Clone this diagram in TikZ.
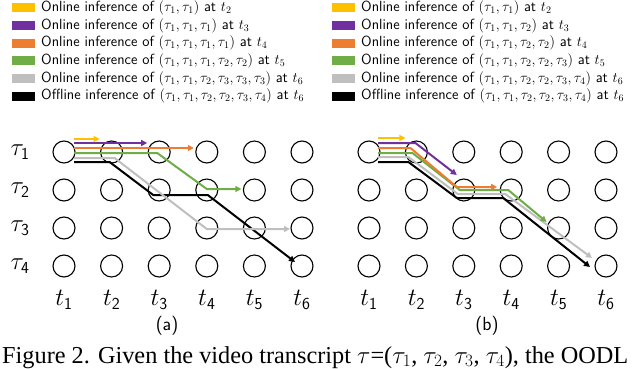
\documentclass[tikz,border=0pt]{standalone}
\usepackage{fontspec}
\newfontfamily\capfont{Liberation Serif}
\usetikzlibrary{arrows.meta,calc}
\definecolor{cyel}{HTML}{FFC000}
\definecolor{cpur}{HTML}{7030A0}
\definecolor{cora}{HTML}{ED7D31}
\definecolor{cgrn}{HTML}{70AD47}
\definecolor{cgry}{HTML}{BFBFBF}
\definecolor{cblk}{HTML}{000000}
\begin{document}
\begin{tikzpicture}[x=1pt,y=-1pt,
  cell/.style={draw,circle,minimum size=22pt,inner sep=0pt,line width=1.1pt},
  pth/.style={line width=2pt,line join=round,-{Triangle[length=6pt,width=6pt]}},
  legbox/.style={minimum width=23pt,minimum height=9pt,inner sep=0pt},
  legtxt/.style={anchor=west,inner sep=0pt,font=\sffamily\fontsize{14.7}{16}\selectfont},
  rowlab/.style={font=\fontsize{24}{28}\selectfont},
  collab/.style={font=\fontsize{24}{28}\selectfont},
  sublab/.style={font=\sffamily\fontsize{19}{22}\selectfont}]
\useasboundingbox (0,0) rectangle (640,369);
% legends
\foreach \c/\t [count=\i] in {cyel/{Online inference of $(\tau_1,\tau_1)$ at $t_2$},
  cpur/{Online inference of $(\tau_1,\tau_1,\tau_1)$ at $t_3$},
  cora/{Online inference of $(\tau_1,\tau_1,\tau_1,\tau_1)$ at $t_4$},
  cgrn/{Online inference of $(\tau_1,\tau_1,\tau_1,\tau_2,\tau_2)$ at $t_5$},
  cgry/{Online inference of $(\tau_1,\tau_1,\tau_2,\tau_3,\tau_3,\tau_3)$ at $t_6$},
  cblk/{Offline inference of $(\tau_1,\tau_1,\tau_2,\tau_2,\tau_3,\tau_4)$ at $t_6$}}{
  \node[legbox,fill=\c] (la\i) at (23.5,{8+17.6*(\i-1)}) {};
  \node[legtxt] (lta\i) at (41,{8+17.6*(\i-1)}) {\t};
}
\foreach \c/\t [count=\i] in {cyel/{Online inference of $(\tau_1,\tau_1)$ at $t_2$},
  cpur/{Online inference of $(\tau_1,\tau_1,\tau_2)$ at $t_3$},
  cora/{Online inference of $(\tau_1,\tau_1,\tau_2,\tau_2)$ at $t_4$},
  cgrn/{Online inference of $(\tau_1,\tau_1,\tau_2,\tau_2,\tau_3)$ at $t_5$},
  cgry/{Online inference of $(\tau_1,\tau_1,\tau_2,\tau_2,\tau_3,\tau_4)$ at $t_6$},
  cblk/{Offline inference of $(\tau_1,\tau_1,\tau_2,\tau_2,\tau_3,\tau_4)$ at $t_6$}}{
  \node[legbox,fill=\c] (lb\i) at (343.5,{8+17.6*(\i-1)}) {};
  \node[legtxt] (ltb\i) at (361,{8+17.6*(\i-1)}) {\t};
}
% grids
\foreach \r in {1,...,4}{
  \foreach \c in {1,...,6}{
    \node[cell] (a\r\c) at ({64+47.6*(\c-1)},{152+38*(\r-1)}) {};
    \node[cell] (b\r\c) at ({369+47.4*(\c-1)},{152+38*(\r-1)}) {};
  }
  \node[rowlab] (tau\r) at (20,{152+38*(\r-1)}) {$\tau_{\mathsf{\r}}$};
}
\foreach \c in {1,...,6}{
  \node[collab] (ta\c) at ({64+47.6*(\c-1)},300) {$t_{\mathsf{\c}}$};
  \node[collab] (tb\c) at ({369+47.4*(\c-1)},300) {$t_{\mathsf{\c}}$};
}
\node[sublab] (capa) at (167,326) {(a)};
\node[sublab] (capb) at (487,326) {(b)};
% paths (a)
\draw[pth,cblk] ($(a11)+(10,10)$) -- ($(a12)+(-2,10)$) -- ($(a23)+(-6,5)$) -- ($(a24)+(1,5)$) -- ($(a46)+(-7,-4)$);
\draw[pth,cgry] ($(a11)+(10,6)$) -- ($(a12)+(3,6)$) -- ($(a34)+(0,1)$) -- ($(a36)+(-12,1)$);
\draw[pth,cgrn] ($(a11)+(10,1)$) -- ($(a13)+(-2,1)$) -- ($(a24)+(0,-1)$) -- ($(a25)+(-13,-1)$);
\draw[pth,cora] ($(a11)+(10,-4)$) -- ($(a14)+(-13,-4)$);
\draw[pth,cpur] ($(a11)+(10,-9)$) -- ($(a13)+(-12,-9)$);
\draw[pth,cyel] ($(a11)+(10,-13)$) -- ($(a12)+(-12,-13)$);
% paths (b)
\draw[pth,cblk] ($(b11)+(9,10)$) -- ($(b12)+(-8,10)$) -- ($(b23)+(-7,8)$) -- ($(b24)+(-8,8)$) -- ($(b46)+(-16,1)$);
\draw[pth,cgry] ($(b11)+(9,5)$) -- ($(b12)+(-8,5)$) -- ($(b23)+(-6,4)$) -- ($(b24)+(-6,4)$) -- ($(b46)+(-14,-8)$);
\draw[pth,cgrn] ($(b11)+(9,1)$) -- ($(b12)+(-4,1)$) -- ($(b23)+(-4,0)$) -- ($(b24)+(-3,0)$) -- ($(b35)+(-12,-6)$);
\draw[pth,cora] ($(b11)+(9,-4)$) -- ($(b12)+(-6,-4)$) -- ($(b23)+(-7,-3)$) -- ($(b24)+(-14,-3)$);
\draw[pth,cpur] ($(b11)+(9,-9)$) -- ($(b12)+(-1,-9)$) -- ($(b23)+(-7,-15)$);
\draw[pth,cyel] ($(b11)+(9,-14)$) -- ($(b12)+(-11,-14)$);
% caption
\node[anchor=base west,inner sep=0pt,font=\capfont\fontsize{24.3}{28}\selectfont] (cap) at (2,363) {Figure 2. Given the video transcript $\tau$=($\tau_1$, $\tau_2$, $\tau_3$, $\tau_4$), the OODL};
\end{tikzpicture}
\end{document}
